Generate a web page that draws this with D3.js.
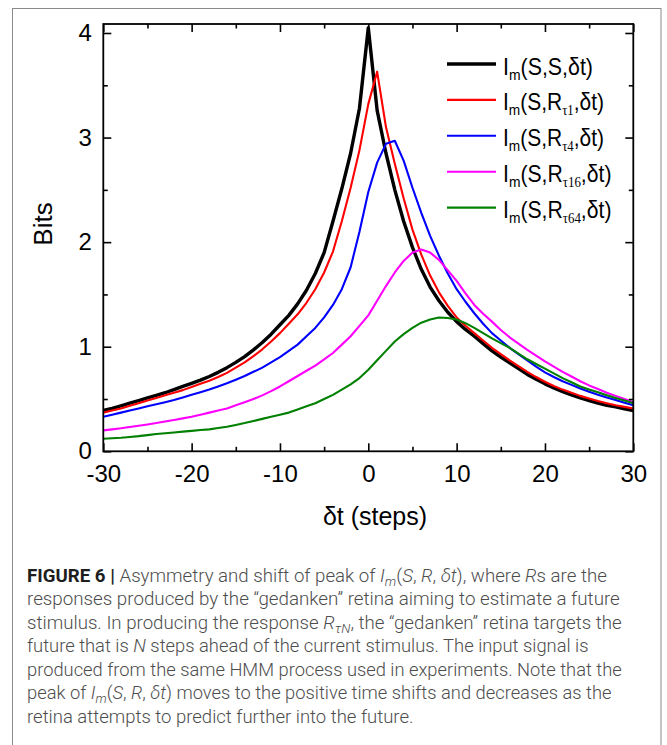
<!DOCTYPE html>
<html><head><meta charset="utf-8">
<script src="https://cdn.jsdelivr.net/npm/d3@7"></script>
<style>body{margin:0;background:#fff}svg{display:block}</style>
</head><body>
<svg id="c" width="667" height="745"></svg>
<script>
// ---- data ----
const dt = [-30,-29,-28,-27,-26,-25,-24,-23,-22,-21,-20,-19,-18,-17,-16,-15,-14,-13,-12,-11,-10,-9,-8,-7,-6,-5,-4,-3,-2,-1,0,1,2,3,4,5,6,7,8,9,10,11,12,13,14,15,16,17,18,19,20,21,22,23,24,25,26,27,28,29,30];
const imSS  = [0.39,0.41,0.435,0.46,0.485,0.51,0.535,0.56,0.59,0.62,0.65,0.68,0.715,0.755,0.80,0.85,0.905,0.97,1.04,1.12,1.21,1.30,1.41,1.54,1.70,1.90,2.20,2.51,2.85,3.28,4.05,3.26,2.85,2.50,2.20,1.95,1.74,1.57,1.44,1.33,1.24,1.165,1.10,1.03,0.96,0.90,0.845,0.79,0.735,0.69,0.645,0.605,0.57,0.54,0.51,0.485,0.46,0.44,0.425,0.405,0.39];
const imR1  = [0.37,0.39,0.41,0.435,0.46,0.485,0.51,0.535,0.56,0.585,0.615,0.645,0.675,0.71,0.75,0.80,0.85,0.91,0.975,1.05,1.13,1.22,1.31,1.42,1.55,1.71,1.91,2.20,2.52,2.88,3.32,3.63,3.10,2.75,2.42,2.12,1.88,1.68,1.52,1.39,1.28,1.20,1.13,1.06,0.99,0.93,0.87,0.815,0.76,0.71,0.665,0.625,0.59,0.56,0.53,0.505,0.48,0.46,0.44,0.425,0.41];
const imR4  = [0.33,0.35,0.37,0.39,0.41,0.43,0.45,0.47,0.49,0.515,0.54,0.565,0.59,0.62,0.65,0.685,0.72,0.76,0.80,0.85,0.90,0.96,1.02,1.10,1.18,1.28,1.40,1.55,1.76,2.10,2.48,2.76,2.94,2.97,2.78,2.52,2.28,2.06,1.87,1.70,1.55,1.43,1.32,1.22,1.13,1.06,0.99,0.93,0.87,0.81,0.755,0.71,0.67,0.635,0.60,0.57,0.54,0.515,0.49,0.465,0.44];
const imR16 = [0.20,0.21,0.22,0.232,0.245,0.257,0.27,0.285,0.30,0.315,0.33,0.35,0.37,0.39,0.41,0.44,0.47,0.50,0.535,0.575,0.62,0.67,0.72,0.77,0.82,0.88,0.94,1.02,1.10,1.20,1.30,1.44,1.58,1.71,1.82,1.90,1.93,1.90,1.83,1.73,1.63,1.51,1.40,1.315,1.24,1.16,1.09,1.03,0.97,0.915,0.86,0.81,0.76,0.715,0.67,0.63,0.595,0.56,0.53,0.50,0.47];
const imR64 = [0.12,0.125,0.13,0.137,0.145,0.155,0.165,0.172,0.18,0.188,0.195,0.203,0.21,0.222,0.235,0.252,0.27,0.29,0.31,0.33,0.35,0.37,0.40,0.43,0.46,0.50,0.54,0.59,0.64,0.70,0.78,0.87,0.96,1.05,1.12,1.18,1.23,1.26,1.28,1.275,1.26,1.225,1.18,1.13,1.08,1.035,0.99,0.935,0.88,0.835,0.79,0.745,0.70,0.66,0.62,0.59,0.565,0.537,0.51,0.485,0.46];
const seriesSubs = [null, "τ1", "τ4", "τ16", "τ64"];
const seriesColors = ["#000000", "#ff0000", "#0000ff", "#ff00ff", "#008000"];
const xTicks = [-30,-20,-10,0,10,20,30];
const xMinor = [-25,-15,-5,5,15,25];
const yTicks = [0,1,2,3,4];
const yMinor = [0.5,1.5,2.5,3.5];
const xTitle = "δt (steps)";
const yTitle = "Bits";

const series = [imSS, imR1, imR4, imR16, imR64].map((v,i)=>({values:v, sub:seriesSubs[i], color:seriesColors[i], width: i===0?3.4:2.1}));

const svg = d3.select("#c");
const FONT = "'Liberation Sans', Arial, Helvetica, sans-serif";
const L=103.3, R=633.3, T=24, B=451.3;
const x = d3.scaleLinear().domain([-30,30]).range([L,R]);
const y = d3.scaleLinear().domain([0,4.086]).range([B,T]);

// outer figure border
svg.append("rect").attr("x",12.5).attr("y",8.5).attr("width",648.5).attr("height",800)
  .attr("fill","none").attr("stroke","#8a8a8a").attr("stroke-width",1);

// curves
const line = d3.line().x((d,i)=>x(dt[i])).y(d=>y(d));
series.forEach(s=>{
  svg.append("path").datum(s.values).attr("d",line).attr("fill","none")
    .attr("stroke",s.color).attr("stroke-width",s.width).attr("stroke-linejoin","round");
});

// axes
function styleAxis(g){ g.select(".domain").remove(); g.selectAll(".tick line").attr("stroke","#000").attr("stroke-width",1.6); }
const fmt = d=>String(d);
svg.append("g").attr("transform",`translate(0,${B})`)
  .call(d3.axisBottom(x).tickValues(xTicks).tickSize(-8).tickPadding(13.5).tickFormat(fmt)).call(styleAxis)
  .selectAll("text").attr("font-family",FONT).attr("font-size",24).attr("fill","#000");
svg.append("g").attr("transform",`translate(0,${B})`)
  .call(d3.axisBottom(x).tickValues(xMinor).tickSize(-4.5).tickFormat("")).call(styleAxis);
svg.append("g").attr("transform",`translate(0,${T})`)
  .call(d3.axisTop(x).tickValues(xTicks).tickSize(-8).tickFormat("")).call(styleAxis);
svg.append("g").attr("transform",`translate(0,${T})`)
  .call(d3.axisTop(x).tickValues(xMinor).tickSize(-4.5).tickFormat("")).call(styleAxis);
svg.append("g").attr("transform",`translate(${L},0)`)
  .call(d3.axisLeft(y).tickValues(yTicks).tickSize(-8).tickPadding(11.5).tickFormat(fmt)).call(styleAxis)
  .selectAll("text").attr("font-family",FONT).attr("font-size",24).attr("fill","#000");
svg.append("g").attr("transform",`translate(${L},0)`)
  .call(d3.axisLeft(y).tickValues(yMinor).tickSize(-4.5).tickFormat("")).call(styleAxis);
svg.append("g").attr("transform",`translate(${R},0)`)
  .call(d3.axisRight(y).tickValues(yTicks).tickSize(-8).tickFormat("")).call(styleAxis);
svg.append("g").attr("transform",`translate(${R},0)`)
  .call(d3.axisRight(y).tickValues(yMinor).tickSize(-4.5).tickFormat("")).call(styleAxis);
svg.append("rect").attr("x",L).attr("y",T).attr("width",R-L).attr("height",B-T)
  .attr("fill","none").attr("stroke","#000").attr("stroke-width",1.8);

// axis titles
svg.append("text").attr("x",375).attr("y",525).attr("text-anchor","middle")
  .attr("font-family",FONT).attr("font-size",25).attr("fill","#000").text(xTitle);
svg.append("text").attr("transform","translate(51.5,224) rotate(-90)").attr("text-anchor","middle")
  .attr("font-family",FONT).attr("font-size",26).attr("fill","#000").text(yTitle);

// legend
const legTargets = [90, 101, 101, 108.5, 108.5];
series.forEach((s,i)=>{
  const ly = 64 + i*35.9;
  svg.append("line").attr("x1",447).attr("x2",496).attr("y1",ly).attr("y2",ly)
    .attr("stroke",s.color).attr("stroke-width",s.width);
  const t = svg.append("text").attr("font-family",FONT).attr("font-size",23).attr("fill","#000");
  t.append("tspan").text("I");
  t.append("tspan").attr("font-size",15).attr("dy",5).text("m");
  if(s.sub===null){
    t.append("tspan").attr("dy",-5).text("(S,S,δt)");
  } else {
    t.append("tspan").attr("dy",-5).text("(S,R");
    t.append("tspan").attr("font-family","'Liberation Serif', 'Times New Roman', serif").attr("font-size",14).attr("dy",5).text(s.sub);
    t.append("tspan").attr("dy",-5).text(",δt)");
  }
  const w = t.node().getComputedTextLength();
  t.attr("transform",`translate(503,${ly+10.5}) scale(${legTargets[i]/w},1)`);
});

// caption
const CF = "Roboto, 'Liberation Sans', sans-serif";
const caption = [
  [["FIGURE 6 | ","b"],["Asymmetry and shift of peak of ","n"],["I","i"],["m","s"],["(","n"],["S","i"],[", ","n"],["R","i"],[", ","n"],["δt","i"],["), where ","n"],["R","i"],["s are the","n"]],
  [["responses produced by the “gedanken” retina aiming to estimate a future","n"]],
  [["stimulus. In producing the response ","n"],["R","i"],["τN","s"],[", the “gedanken” retina targets the","n"]],
  [["future that is ","n"],["N","i"],[" steps ahead of the current stimulus. The input signal is","n"]],
  [["produced from the same HMM process used in experiments. Note that the","n"]],
  [["peak of ","n"],["I","i"],["m","s"],["(","n"],["S","i"],[", ","n"],["R","i"],[", ","n"],["δt","i"],[") moves to the positive time shifts and decreases as the","n"]],
  [["retina attempts to predict further into the future.","n"]]
];
const capEnds = [607, 620, 622, 589, 622, 612, null];
const capX = 27;
const nodes = [];
caption.forEach((segs,li)=>{
  const base = 581.5 + li*23.5;
  const t = svg.append("text").attr("font-family",CF).attr("font-size",19).attr("font-weight",300).attr("fill","#4d4d4d");
  let sub = false;
  segs.forEach(([txt,st])=>{
    const ts = t.append("tspan").text(txt);
    let dy = 0;
    if(st==="s"){ ts.attr("font-style","italic").attr("font-size",13.5); if(!sub){dy=4; sub=true;} }
    else { if(sub){dy=-4; sub=false;} }
    if(st==="i") ts.attr("font-style","italic");
    if(st==="b") ts.attr("font-weight",700).attr("fill","#1e1e1e");
    if(dy) ts.attr("dy",dy);
  });
  nodes.push({t, base, w:t.node().getComputedTextLength()});
});
const scales = nodes.map((n,i)=>capEnds[i]!==null ? (capEnds[i]-capX)/n.w : null);
const avgS = d3.mean(scales.filter(s=>s!==null));
nodes.forEach((n,i)=>{
  const sx = scales[i]!==null ? scales[i] : avgS;
  n.t.attr("transform",`translate(${capX},${n.base}) scale(${sx},1)`);
});
</script>
</body></html>
